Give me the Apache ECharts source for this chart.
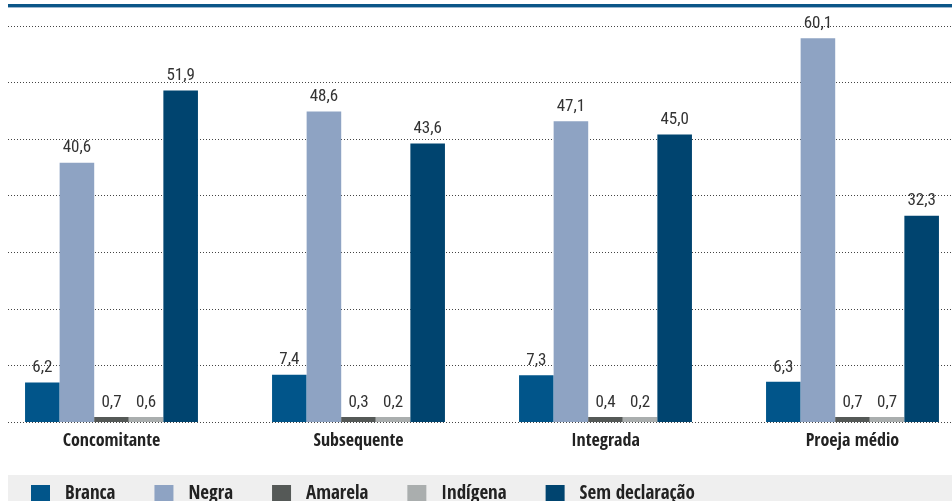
<!DOCTYPE html>
<html><head><meta charset="utf-8">
<script src="https://cdn.jsdelivr.net/npm/echarts@6/dist/echarts.min.js"></script>
<style>html,body{margin:0;padding:0;background:#fff}#c{width:952px;height:501px}</style>
</head><body><div id="c"></div>
<script>
var categories = ['Concomitante', 'Subsequente', 'Integrada', 'Proeja médio'];
var seriesNames = ['Branca', 'Negra', 'Amarela', 'Indígena', 'Sem declaração'];
var branca = [6.2, 7.4, 7.3, 6.3];
var negra = [40.6, 48.6, 47.1, 60.1];
var amarela = [0.7, 0.3, 0.4, 0.7];
var indigena = [0.6, 0.2, 0.2, 0.7];
var semDeclaracao = [51.9, 43.6, 45.0, 32.3];
var colors = ['#01558a', '#8ea3c3', '#555957', '#aaaeae', '#00446f'];
var yMax = 62;

var FONT = '"Open Sans Condensed", "Roboto Condensed", sans-serif';
var LFONT = '"Roboto Condensed", "Open Sans Condensed", sans-serif';
var values = [branca, negra, amarela, indigena, semDeclaracao];
var chart = echarts.init(document.getElementById('c'), null, {renderer: 'canvas'});
var series = seriesNames.map(function (n, i) {
  return {
    name: n, type: 'bar', xAxisIndex: 1, yAxisIndex: 1,
    barGap: '0%', barCategoryGap: '30%', barMinHeight: 5,
    itemStyle: {color: colors[i]},
    label: {
      show: true, position: 'top', distance: 6,
      fontFamily: LFONT, fontSize: 17, fontWeight: 'normal', color: '#333',
      formatter: function (p) { return p.value.toFixed(1).replace('.', ','); }
    },
    data: values[i]
  };
});
chart.setOption({
  animation: false,
  textStyle: {fontFamily: FONT},
  graphic: [
    {type: 'rect', z: -10, shape: {x: 8, y: 475, width: 944, height: 26}, style: {fill: '#efefef'}},
    {type: 'rect', shape: {x: 8, y: 4, width: 944, height: 3}, style: {fill: '#0b5688'}},
    {type: 'rect', shape: {x: 8, y: 7, width: 944, height: 1}, style: {fill: '#9db7cf'}}
  ],
  legend: {
    left: 26, top: 480, itemWidth: 19, itemHeight: 19, itemGap: 39,
    icon: 'rect',
    textStyle: {fontFamily: FONT, fontSize: 19, fontWeight: 'bold', color: '#222', padding: [0, 0, 0, 10]},
    data: seriesNames
  },
  grid: [
    {left: 8, right: 0, top: 26, bottom: 79, outerBoundsMode: 'none'},
    {left: -12, width: 988, top: 26, bottom: 79, outerBoundsMode: 'none', containLabel: false}
  ],
  xAxis: [
    {type: 'value', gridIndex: 0, show: false},
    {type: 'category', gridIndex: 1, data: categories,
     axisLine: {show: false}, axisTick: {show: false},
     axisLabel: {fontFamily: FONT, fontSize: 18, fontWeight: 'bold', color: '#222', margin: 10}}
  ],
  yAxis: [
    {type: 'value', gridIndex: 0, min: 0, max: yMax, interval: yMax / 7,
     axisLabel: {show: false}, axisLine: {show: false}, axisTick: {show: false},
     splitLine: {show: true, lineStyle: {color: '#444', width: 1, type: [1, 2]}}},
    {type: 'value', gridIndex: 1, min: 0, max: yMax, show: false, splitLine: {show: false}}
  ],
  series: series
});
</script></body></html>
